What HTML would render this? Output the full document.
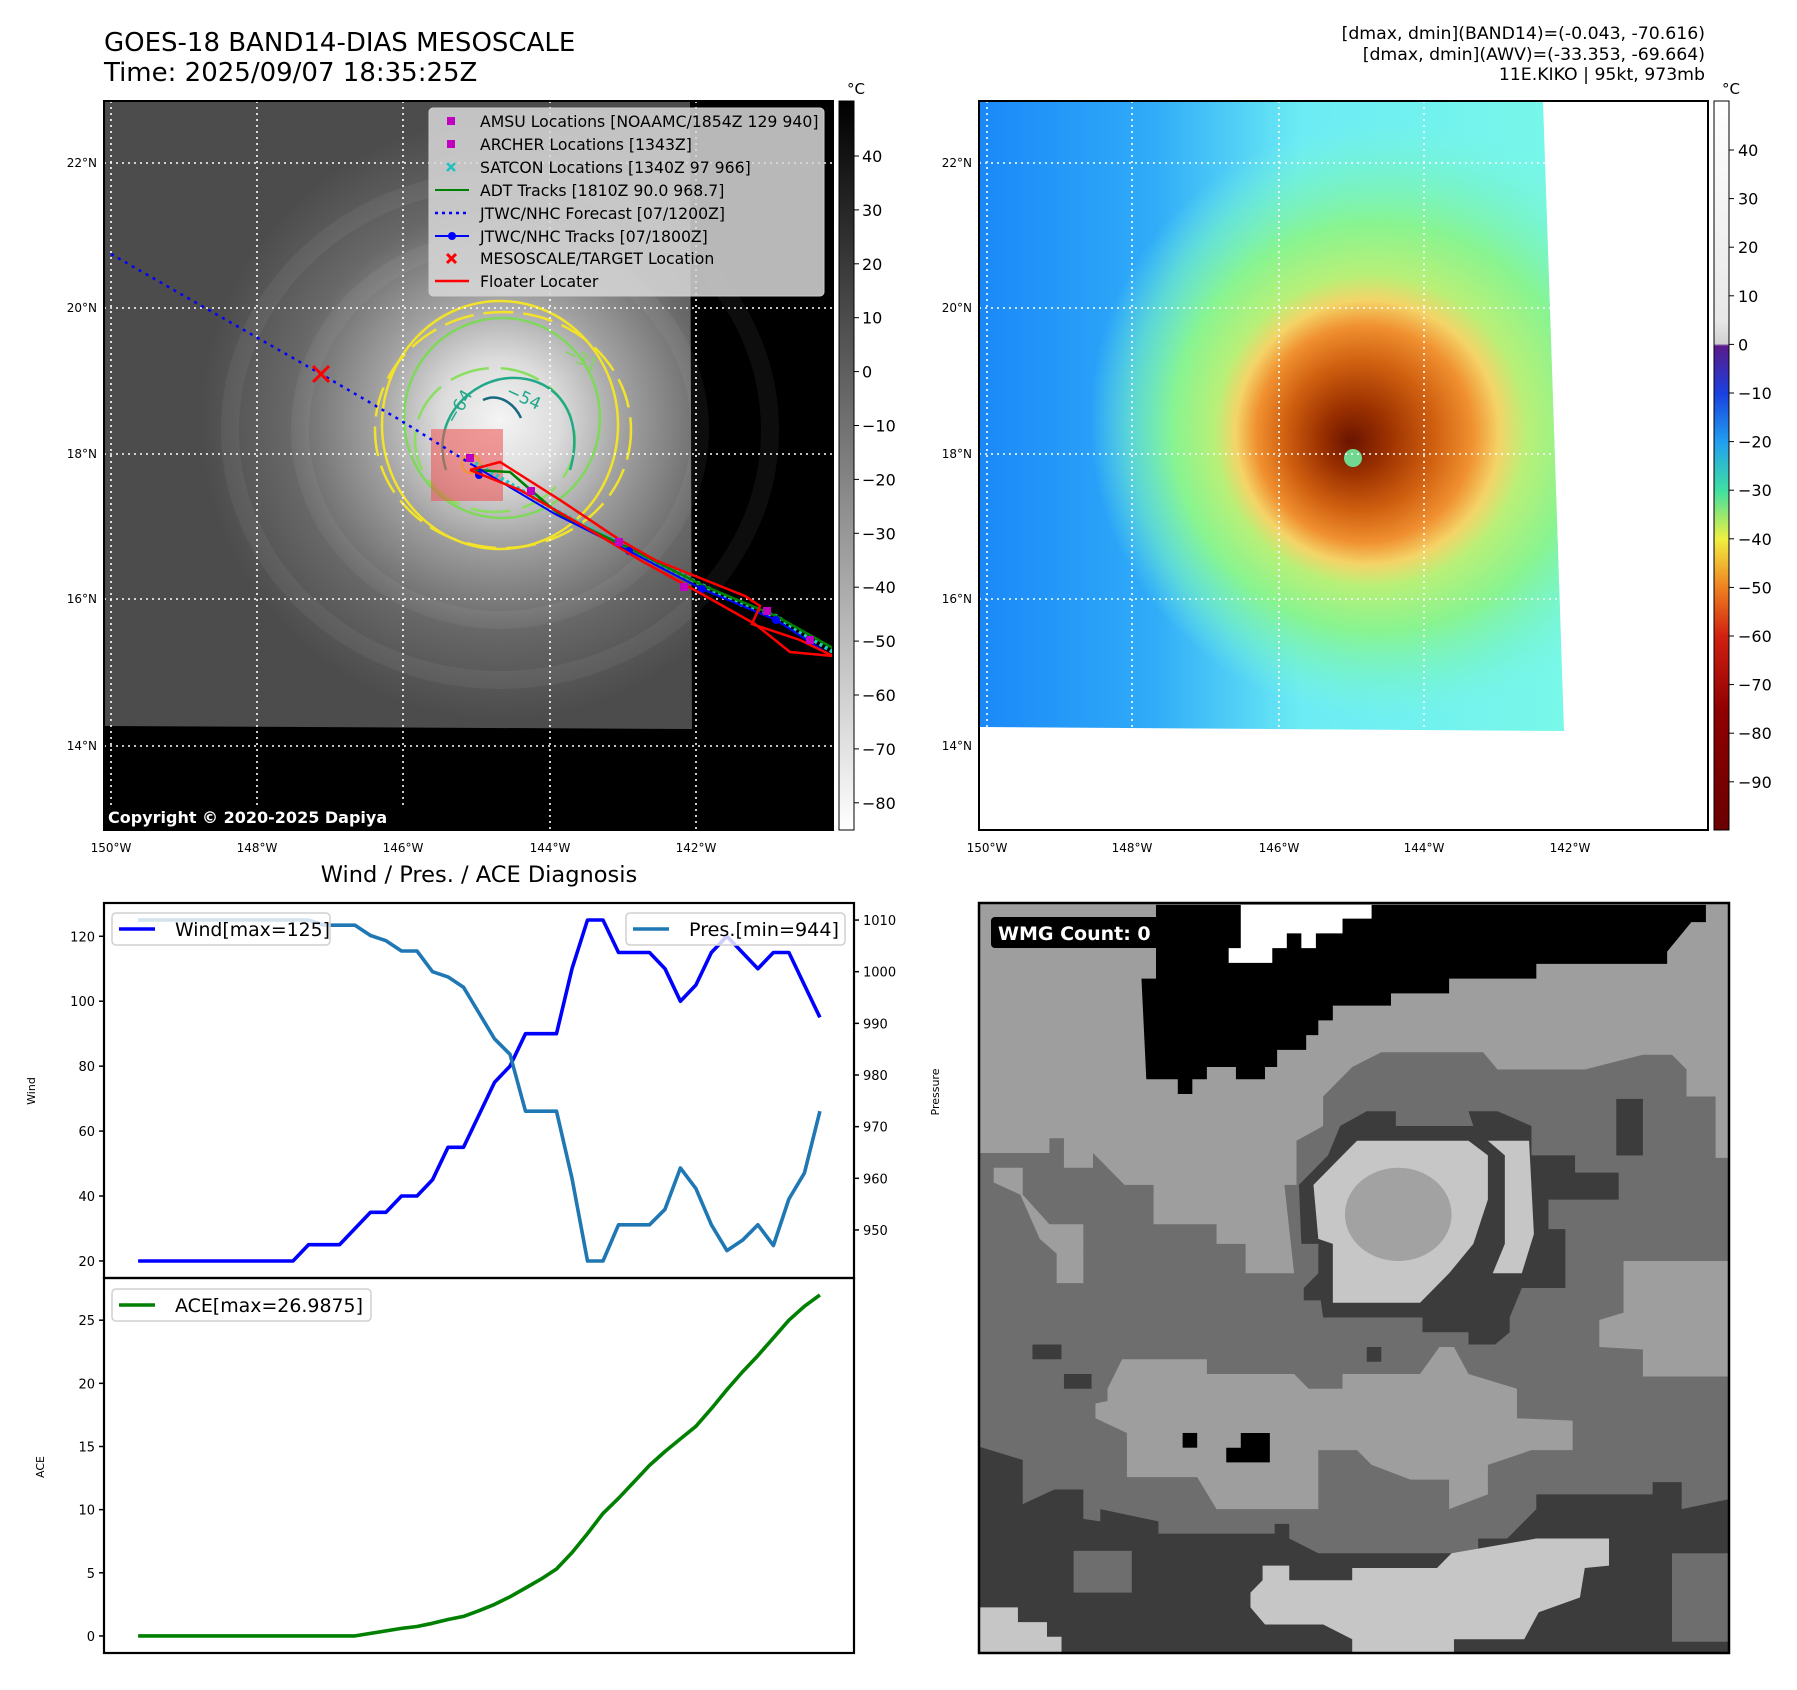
<!DOCTYPE html>
<html><head><meta charset="utf-8"><style>
html,body{margin:0;padding:0;background:#fff;}
svg{display:block;font-family:"DejaVu Sans","Liberation Sans",sans-serif;}
</style></head><body>
<svg id="fig" width="1797" height="1690" viewBox="0 0 1797 1690" xmlns="http://www.w3.org/2000/svg">
<defs>
  <radialGradient id="cloud" cx="500" cy="420" r="300" gradientUnits="userSpaceOnUse">
    <stop offset="0" stop-color="#f4f4f4"/><stop offset="0.2" stop-color="#dcdcdc"/>
    <stop offset="0.42" stop-color="#a0a0a0"/><stop offset="0.7" stop-color="#686868"/>
    <stop offset="1" stop-color="#4c4c4c"/>
  </radialGradient>
  <linearGradient id="bluebg" x1="979" y1="0" x2="1564" y2="0" gradientUnits="userSpaceOnUse">
    <stop offset="0" stop-color="#1a88f8"/><stop offset="0.3" stop-color="#30acf8"/><stop offset="0.55" stop-color="#6cecf4"/><stop offset="1" stop-color="#78f8e8"/>
  </linearGradient>
  <radialGradient id="storm" cx="1390" cy="420" r="300" fx="1350" fy="442" gradientUnits="userSpaceOnUse">
    <stop offset="0" stop-color="#6a1400"/><stop offset="0.11" stop-color="#9a3000"/>
    <stop offset="0.25" stop-color="#d06010"/><stop offset="0.36" stop-color="#f09030"/>
    <stop offset="0.44" stop-color="#f4d468"/><stop offset="0.52" stop-color="#b8f078"/>
    <stop offset="0.68" stop-color="#88f490"/><stop offset="0.85" stop-color="#78f4c0" stop-opacity="0.6"/>
    <stop offset="1" stop-color="#78f4e0" stop-opacity="0"/>
  </radialGradient>
  <linearGradient id="cbgray" x1="0" y1="101" x2="0" y2="830" gradientUnits="userSpaceOnUse">
    <stop offset="0" stop-color="#000"/><stop offset="1" stop-color="#fff"/>
  </linearGradient>
  <linearGradient id="cbcolor" x1="0" y1="101" x2="0" y2="830" gradientUnits="userSpaceOnUse">
    <stop offset="0" stop-color="#ffffff"/><stop offset="0.3" stop-color="#e8e8e8"/>
    <stop offset="0.333" stop-color="#d0d0d0"/><stop offset="0.336" stop-color="#5a1a8a"/>
    <stop offset="0.401" stop-color="#1a40e0"/><stop offset="0.468" stop-color="#20a0f0"/>
    <stop offset="0.535" stop-color="#40e0a0"/><stop offset="0.601" stop-color="#f0f040"/>
    <stop offset="0.668" stop-color="#f08020"/><stop offset="0.735" stop-color="#d02010"/>
    <stop offset="0.835" stop-color="#900000"/><stop offset="1" stop-color="#6a0000"/>
  </linearGradient>
  <clipPath id="clipTL"><rect x="104" y="101" width="729" height="729"/></clipPath>
  <clipPath id="clipTR"><polygon points="979,101 1543,101 1564,731 979,727"/></clipPath>
  <clipPath id="clipBR"><rect x="979" y="903" width="750" height="750"/></clipPath>
</defs>

<!-- titles -->
<text x="104" y="51" font-size="26">GOES-18 BAND14-DIAS MESOSCALE</text>
<text x="104" y="81" font-size="26">Time: 2025/09/07 18:35:25Z</text>
<g font-size="17.3" text-anchor="end">
<text x="1705" y="39">[dmax, dmin](BAND14)=(-0.043, -70.616)</text>
<text x="1705" y="60">[dmax, dmin](AWV)=(-33.353, -69.664)</text>
<text x="1705" y="80">11E.KIKO | 95kt, 973mb</text>
</g>

<!-- TOP LEFT MAP -->
<g>
<rect x="104" y="101" width="729" height="729" fill="#000"/>
<g clip-path="url(#clipTL)">
<polygon points="104,101 690,101 692,729 104,726" fill="url(#cloud)"/>
<g clip-path="url(#clipTL)" fill="none" stroke="#fff" stroke-opacity="0.05" stroke-width="18">
<ellipse cx="500" cy="430" rx="200" ry="190"/><ellipse cx="500" cy="430" rx="270" ry="250"/>
</g>
<g fill="none" stroke-width="2.5">
<ellipse cx="500" cy="425" rx="118" ry="124" stroke="#f2e32a"/>
<ellipse cx="503" cy="430" rx="128" ry="118" stroke="#f2e32a" stroke-dasharray="30 10"/>
<ellipse cx="502" cy="418" rx="98" ry="100" stroke="#7ed85a"/>
<ellipse cx="495" cy="440" rx="80" ry="72" stroke="#8ade60" stroke-dasharray="40 12"/>
<path d="M446,470 C430,420 470,380 510,378 C560,376 585,420 570,470" stroke="#20a888"/>
<path d="M483,400 C500,392 515,405 521,418" stroke="#1a6a80"/>
<ellipse cx="471" cy="464" rx="9" ry="9" stroke="#f2e32a"/>
<text x="455" y="425" font-size="17" fill="#20a888" stroke="none" transform="rotate(-60 455 425)">−64</text>
<text x="505" y="395" font-size="17" fill="#20a888" stroke="none" transform="rotate(25 505 395)">−54</text>
<text x="562" y="356" font-size="17" fill="#7ed85a" stroke="none" transform="rotate(25 562 356)">−31</text>
</g>
<rect x="431" y="429" width="72" height="72" fill="#f05050" opacity="0.55"/>
<g stroke="#fff" stroke-width="1.6" stroke-dasharray="2 4" fill="none">
<line x1="111" y1="101" x2="111" y2="830"/><line x1="257" y1="101" x2="257" y2="830"/><line x1="403" y1="101" x2="403" y2="830"/><line x1="550" y1="101" x2="550" y2="830"/><line x1="696" y1="101" x2="696" y2="830"/>
<line x1="104" y1="163" x2="833" y2="163"/><line x1="104" y1="308" x2="833" y2="308"/><line x1="104" y1="454" x2="833" y2="454"/><line x1="104" y1="599" x2="833" y2="599"/><line x1="104" y1="746" x2="833" y2="746"/>
</g>
<polyline points="111,254 200,305 321,374 400,420 471,464" fill="none" stroke="#0000ff" stroke-width="2.5" stroke-dasharray="3 5"/>
<path d="M313,366 L329,382 M329,366 L313,382" stroke="#f00" stroke-width="3"/>
<polyline points="470,460 555,510 629,548 702,585 742,605 776,616 800,632 833,652" fill="none" stroke="#20c8c0" stroke-width="4" stroke-dasharray="3 3"/>
<polyline points="475,470 510,472 540,498 560,515 629,548 702,585 776,616 833,648" fill="none" stroke="#008000" stroke-width="2.5"/>
<polyline points="471,464 555,514 629,551 702,589 776,620 833,657" fill="none" stroke="#0000ff" stroke-width="2"/>
<g fill="#0000ff"><circle cx="479" cy="475" r="4"/><circle cx="629" cy="551" r="4"/><circle cx="702" cy="589" r="4"/><circle cx="776" cy="620" r="4"/></g>
<polyline points="470,470 500,462 560,500 620,540 655,560 700,578 745,596 760,606 752,624 800,640 833,656 790,652 755,624 700,593 640,560 580,524 520,490 470,470" fill="none" stroke="#ff0000" stroke-width="2.5"/>
<g fill="#c000c0"><rect x="527" y="487" width="8" height="8"/><rect x="615" y="538" width="8" height="8"/><rect x="680" y="583" width="8" height="8"/><rect x="763" y="607" width="8" height="8"/><rect x="806" y="636" width="8" height="8"/><rect x="466" y="454" width="8" height="8"/></g>
</g>
<rect x="104" y="101" width="729" height="729" fill="none" stroke="#000" stroke-width="2"/>
<rect x="104" y="805" width="310" height="25" fill="#000"/>
<text x="108" y="823" font-size="16" font-weight="bold" fill="#fff">Copyright © 2020-2025 Dapiya</text>
</g>

<!-- legend -->
<g>
<rect x="429" y="108" width="395" height="188" rx="4" fill="#d8d8d8" fill-opacity="0.85" stroke="#ccc"/>
<g font-size="15.7">
<rect x="447" y="117" width="8" height="8" fill="#c000c0"/><text x="480" y="127">AMSU Locations [NOAAMC/1854Z 129 940]</text>
<rect x="447" y="140" width="8" height="8" fill="#c000c0"/><text x="480" y="150">ARCHER Locations [1343Z]</text>
<path d="M447,163 l8,8 M455,163 l-8,8" stroke="#20c0c0" stroke-width="2.5"/><text x="480" y="173">SATCON Locations [1340Z 97 966]</text>
<line x1="435" y1="190" x2="469" y2="190" stroke="#008000" stroke-width="2"/><text x="480" y="196">ADT Tracks [1810Z 90.0 968.7]</text>
<line x1="435" y1="213" x2="469" y2="213" stroke="#0000ff" stroke-width="2.5" stroke-dasharray="3 4"/><text x="480" y="219">JTWC/NHC Forecast [07/1200Z]</text>
<line x1="435" y1="236" x2="469" y2="236" stroke="#0000ff" stroke-width="2"/><circle cx="452" cy="236" r="4" fill="#0000ff"/><text x="480" y="242">JTWC/NHC Tracks [07/1800Z]</text>
<path d="M447,254 l9,9 M456,254 l-9,9" stroke="#f00" stroke-width="3"/><text x="480" y="264">MESOSCALE/TARGET Location</text>
<line x1="435" y1="281" x2="469" y2="281" stroke="#f00" stroke-width="2.5"/><text x="480" y="287">Floater Locater</text>
</g></g>

<!-- map tick labels -->
<g font-size="12">
<g text-anchor="end"><text x="97" y="167">22°N</text><text x="97" y="312">20°N</text><text x="97" y="458">18°N</text><text x="97" y="603">16°N</text><text x="97" y="750">14°N</text>
<text x="972" y="167">22°N</text><text x="972" y="312">20°N</text><text x="972" y="458">18°N</text><text x="972" y="603">16°N</text><text x="972" y="750">14°N</text></g>
<g text-anchor="middle"><text x="111" y="852">150°W</text><text x="257" y="852">148°W</text><text x="403" y="852">146°W</text><text x="550" y="852">144°W</text><text x="696" y="852">142°W</text>
<text x="987" y="852">150°W</text><text x="1132" y="852">148°W</text><text x="1279" y="852">146°W</text><text x="1424" y="852">144°W</text><text x="1570" y="852">142°W</text></g>
</g>

<!-- left colorbar -->
<g>
<rect x="839" y="101" width="15" height="729" fill="url(#cbgray)" stroke="#000"/>
<text x="847" y="94" font-size="15">°C</text>
<g id="cbL" font-size="16"></g>
</g>

<!-- TOP RIGHT MAP -->
<g>
<rect x="979" y="101" width="729" height="729" fill="#fff"/>
<g clip-path="url(#clipTR)">
<rect x="979" y="101" width="600" height="640" fill="url(#bluebg)"/>
<ellipse cx="1390" cy="420" rx="300" ry="300" fill="url(#storm)"/>
<circle cx="1353" cy="458" r="9" fill="#70d890"/>
</g>
<g stroke="#fff" stroke-width="1.6" stroke-dasharray="2 4" fill="none">
<line x1="987" y1="101" x2="987" y2="830"/><line x1="1132" y1="101" x2="1132" y2="830"/><line x1="1279" y1="101" x2="1279" y2="830"/><line x1="1424" y1="101" x2="1424" y2="830"/><line x1="1570" y1="101" x2="1570" y2="830"/>
<line x1="979" y1="163" x2="1708" y2="163"/><line x1="979" y1="308" x2="1708" y2="308"/><line x1="979" y1="454" x2="1708" y2="454"/><line x1="979" y1="599" x2="1708" y2="599"/><line x1="979" y1="746" x2="1708" y2="746"/>
</g>
<rect x="979" y="101" width="729" height="729" fill="none" stroke="#000" stroke-width="2"/>
</g>
<g>
<rect x="1714" y="101" width="15" height="729" fill="url(#cbcolor)" stroke="#000"/>
<text x="1722" y="94" font-size="15">°C</text>
<g id="cbR" font-size="16"></g>
</g>

<!-- BOTTOM RIGHT -->
<g>
<g clip-path="url(#clipBR)">
<g transform="translate(984,900) scale(0.4845,0.4912)">
<rect x="-20" y="0" width="1600" height="1560" fill="#9e9e9e"/>
<polygon fill="#6e6e6e" points="0,515 135,515 135,485 165,485 165,545 225,545 225,515 290,580 350,580 350,660 480,660 480,700 540,700 540,760 640,760 620,580 645,580 645,490 700,460 700,400 730,370 760,340 820,310 1030,310 1060,345 1240,345 1360,315 1420,315 1450,345 1450,400 1510,400 1510,525 1560,525 1560,1560 -20,1560 -20,515"/>
<polygon fill="#9e9e9e" points="20,545 80,545 80,600 135,660 205,660 205,780 150,780 150,720 115,690 75,600 20,575"/>
<polygon fill="#9e9e9e" points="1270,855 1320,840 1320,735 1560,735 1560,970 1360,970 1360,915 1270,910"/>
<polygon fill="#9e9e9e" points="255,995 285,935 460,935 460,965 640,965 670,995 740,995 740,965 900,965 940,910 970,910 1000,965 1100,995 1100,1055 1215,1060 1215,1120 1130,1120 1040,1150 1040,1210 960,1240 960,1180 880,1180 800,1150 770,1120 690,1120 690,1240 480,1240 440,1175 295,1175 295,1085 230,1055 230,1025 255,1020"/>
<polygon fill="#3c3c3c" points="650,580 710,520 735,460 790,430 850,430 850,460 1010,460 1000,430 1060,430 1130,460 1130,520 1220,520 1220,555 1310,555 1310,610 1165,610 1165,670 1200,670 1200,790 1110,790 1085,850 1085,880 1055,905 1000,905 1000,880 905,880 905,850 700,850 695,815 660,815 660,790 690,760 690,700 655,700"/>
<polygon fill="#c6c6c6" points="680,580 740,520 770,490 1000,490 1040,520 1040,610 1010,700 960,760 900,820 720,820 720,700 690,690"/>
<ellipse cx="855" cy="640" rx="110" ry="95" fill="#a2a2a2"/>
<polygon fill="#c6c6c6" points="1040,490 1125,490 1135,680 1110,760 1050,760 1075,700 1075,520"/>
<rect x="1305" y="405" width="55" height="115" fill="#3c3c3c"/>
<polygon fill="#3c3c3c" points="-20,1110 80,1140 80,1230 145,1200 205,1200 205,1260 240,1265 240,1240 360,1265 360,1290 600,1290 600,1270 630,1270 630,1300 690,1330 1020,1330 1020,1300 1080,1300 1140,1240 1140,1210 1380,1210 1380,1185 1440,1185 1440,1240 1560,1215 1560,1560 -20,1560"/>
<rect x="185" y="1325" width="120" height="85" fill="#6e6e6e"/>
<rect x="1420" y="1330" width="140" height="180" fill="#6e6e6e"/>
<polygon fill="#c6c6c6" points="575,1355 630,1355 630,1385 760,1385 760,1360 935,1360 965,1330 1140,1300 1290,1300 1290,1355 1240,1360 1230,1420 1145,1450 1115,1505 970,1505 970,1540 760,1540 760,1505 700,1475 580,1475 550,1440 550,1410 575,1385"/>
<polygon fill="#c6c6c6" points="-20,1440 70,1440 70,1470 130,1470 130,1500 160,1500 160,1540 -20,1540"/>
<polygon fill="#000" points="355,10 1490,10 1490,45 1460,45 1410,105 1410,130 1140,130 1140,160 960,160 960,190 840,190 840,215 720,215 720,245 690,245 690,275 665,275 665,305 605,305 605,340 580,340 580,365 520,365 520,340 460,340 460,365 430,365 430,395 400,395 400,365 335,365 325,160 355,160"/>
<polygon fill="#fff" points="530,10 800,10 800,38 740,38 740,68 685,68 685,98 655,98 655,68 625,68 625,98 595,98 595,128 505,128 505,98 530,98"/>
<rect x="410" y="1085" width="30" height="30" fill="#000"/>
<polygon fill="#000" points="530,1085 590,1085 590,1145 500,1145 500,1115 530,1115"/>
<rect x="100" y="905" width="60" height="30" fill="#3c3c3c"/><rect x="165" y="965" width="57" height="30" fill="#3c3c3c"/><rect x="790" y="910" width="30" height="30" fill="#3c3c3c"/>
</g>
</g>
<rect x="979" y="903" width="750" height="750" fill="none" stroke="#000" stroke-width="2.5"/>
<rect x="991" y="917" width="180" height="31" rx="4" fill="#000"/>
<text x="998" y="940" font-size="19" font-weight="bold" fill="#fff">WMG Count: 0</text>
</g>

<!-- BOTTOM LEFT CHARTS -->
<text x="479" y="882" font-size="22.5" text-anchor="middle">Wind / Pres. / ACE Diagnosis</text>
<g id="charts"></g>
</svg>
<script>
const windValues = [20,20,20,20,20,20,20,20,20,20,20,25,25,25,30,35,35,40,40,45,55,55,65,75,80,90,90,90,110,125,125,115,115,115,110,100,105,115,120,115,110,115,115,105,95];
const presValues = [1010,1010,1010,1010,1010,1010,1010,1010,1010,1010,1010,1010,1009,1009,1009,1007,1006,1004,1004,1000,999,997,992,987,984,973,973,973,960,944,944,951,951,951,954,962,958,951,946,948,951,947,956,961,973];
const aceValues = [0,0,0,0,0,0,0,0,0,0,0,0,0,0,0,0.2,0.4,0.6,0.75,1.0,1.3,1.55,2.0,2.5,3.1,3.8,4.5,5.3,6.6,8.1,9.7,10.9,12.2,13.5,14.6,15.6,16.6,18.0,19.5,20.9,22.2,23.6,25.0,26.1,27.0];
const windTicks = [20,40,60,80,100,120];
const presTicks = [950,960,970,980,990,1000,1010];
const aceTicks = [0,5,10,15,20,25];
const cbLeftTicks = [40,30,20,10,0,-10,-20,-30,-40,-50,-60,-70,-80];
const cbRightTicks = [40,30,20,10,0,-10,-20,-30,-40,-50,-60,-70,-80,-90];

const NS = 'http://www.w3.org/2000/svg';
function mk(tag, attrs, parent){const e=document.createElementNS(NS,tag);for(const k in attrs)e.setAttribute(k,attrs[k]);parent.appendChild(e);return e;}
function fmt(v){return v<0?'\u2212'+Math.abs(v):String(v);}

const cbL=document.getElementById('cbL');
cbLeftTicks.forEach(v=>{const y=156+(40-v)*5.39;
  const t=mk('line',{x1:854,y1:y,x2:859,y2:y,stroke:'#000'},cbL);
  
  
  const l=mk('text',{x:862,y:y+6},cbL);l.textContent=fmt(v);
  
  });
const cbR=document.getElementById('cbR');
cbRightTicks.forEach(v=>{const y=150+(40-v)*4.86;
  const t=mk('line',{x1:1729,y1:y,x2:1734,y2:y,stroke:'#000'},cbR);
  
  
  const l=mk('text',{x:1738,y:y+6},cbR);l.textContent=fmt(v);
  
  });

const g=document.getElementById('charts');
const X0=104,X1=854, n=windValues.length;
const xmin=-2.2,xmax=(n-1)+2.2;
const xs=i=>X0+(i-xmin)/(xmax-xmin)*(X1-X0);
const WT=903,WB=1278,AT=1278,AB=1653;
const wmin=14.75,wmax=130.25; const yw=v=>WB-(v-wmin)/(wmax-wmin)*(WB-WT);
const pmin=940.7,pmax=1013.3; const yp=v=>WB-(v-pmin)/(pmax-pmin)*(WB-WT);
const amin=-1.35,amax=28.34; const ya=v=>AB-(v-amin)/(amax-amin)*(AB-AT);

function line(vals,yf,color,w,name){
  const p=mk('polyline',{points:vals.map((v,i)=>xs(i).toFixed(1)+','+yf(v).toFixed(1)).join(' '),fill:'none',stroke:color,'stroke-width':w,'stroke-linejoin':'round'},g);
  
  
}
line(windValues,yw,'#0000ff',3.6,'wind-line');
line(presValues,yp,'#1f77b4',3.6,'pressure-line');
line(aceValues,ya,'#008000',3.6,'ace-line');

function ticks(arr,yf,side){
  arr.forEach(v=>{const y=yf(v);
    const x=side==='l'?X0:X1;
    const t=mk('line',{x1:x,y1:y,x2:side==='l'?x-5:x+5,y2:y,stroke:'#000','stroke-width':1.5},g);
    
    
    const l=mk('text',{x:side==='l'?x-9:x+9,y:y+5,'font-size':13,'text-anchor':side==='l'?'end':'start'},g);
    l.textContent=v;
    
    });
}
ticks(windTicks,yw,'l');ticks(presTicks,yp,'r');ticks(aceTicks,ya,'l');

const f1=mk('rect',{x:X0,y:WT,width:X1-X0,height:WB-WT,fill:'none',stroke:'#000','stroke-width':2.2},g);


const f2=mk('rect',{x:X0,y:AT,width:X1-X0,height:AB-AT,fill:'none',stroke:'#000','stroke-width':2.2},g);



function ylabel(txt,x,y,name){const t=mk('text',{x:x,y:y,'font-size':11,'text-anchor':'middle',transform:'rotate(-90 '+x+' '+y+')'},g);t.textContent=txt;
  
  }
ylabel('Wind',35,1091,'wind-axis-title');ylabel('Pressure',939,1092,'pressure-axis-title');ylabel('ACE',44,1467,'ace-axis-title');

function legend(x,y,w,txt,color,name,tw){
  const r=mk('rect',{x:x,y:y,width:w,height:32,rx:4,fill:'#fff','fill-opacity':0.8,stroke:'#d0d0d0','stroke-width':1.5},g);
  
  
  mk('line',{x1:x+7,y1:y+16,x2:x+43,y2:y+16,stroke:color,'stroke-width':3.6},g);
  const t=mk('text',{x:x+63,y:y+23,'font-size':19,textLength:tw,lengthAdjust:'spacingAndGlyphs'},g);t.textContent=txt;
  
  
}
legend(112,913,218,'Wind[max=125]','#0000ff','wind-legend',155);
legend(626,913,219,'Pres.[min=944]','#1f77b4','pressure-legend',150);
legend(112,1289,259,'ACE[max=26.9875]','#008000','ace-legend',188);
</script>
</body></html>
